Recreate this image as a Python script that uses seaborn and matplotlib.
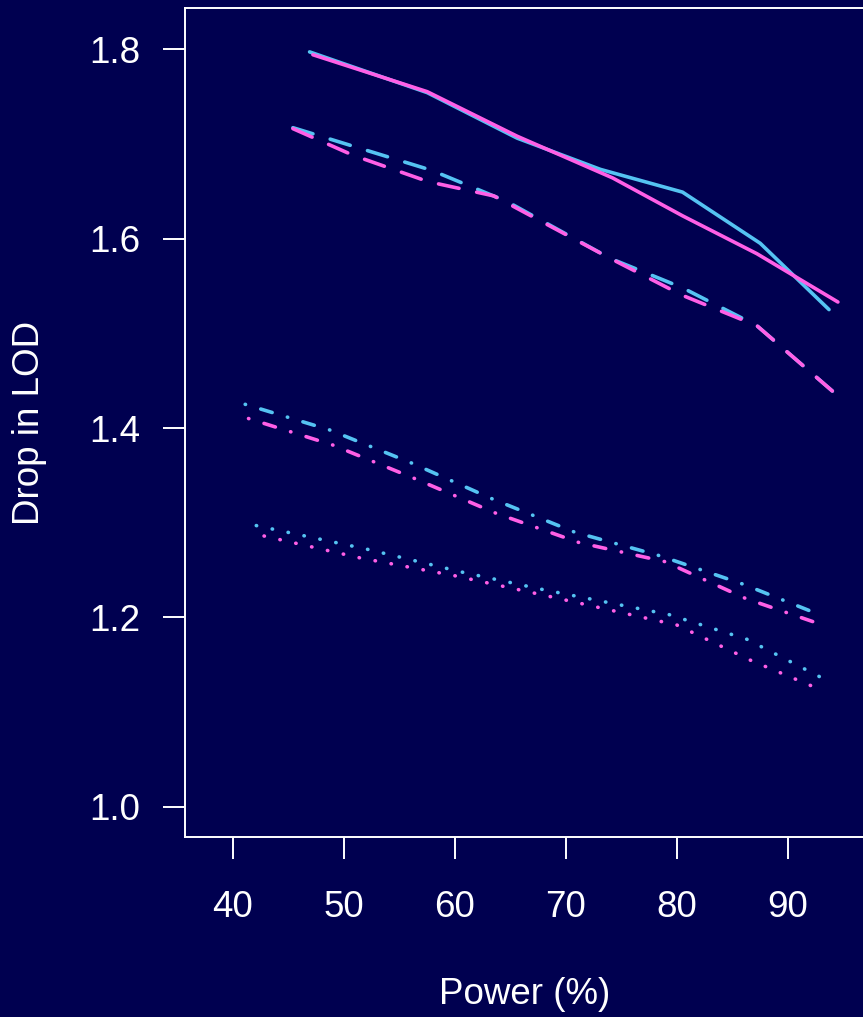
import matplotlib
matplotlib.use('Agg')
import matplotlib.pyplot as plt
import seaborn as sns

# power (%) vs drop in LOD, two colours x four line types
cyan_solid_x = [46.9, 57.5, 65.6, 73.1, 80.5, 87.5, 93.7]
cyan_solid_y = [1.797, 1.754, 1.706, 1.673, 1.649, 1.595, 1.525]
pink_solid_x = [47.2, 57.5, 65.6, 74.2, 80.5, 87.2, 94.5]
pink_solid_y = [1.794, 1.755, 1.708, 1.664, 1.624, 1.584, 1.533]

cyan_dash_x = [45.4, 57.9, 64.7, 74.0, 80.5, 87.2, 94.2]
cyan_dash_y = [1.717, 1.672, 1.639, 1.579, 1.548, 1.508, 1.437]
pink_dash_x = [45.4, 50.8, 57.6, 63.5, 74.0, 80.5, 87.2, 94.2]
pink_dash_y = [1.716, 1.688, 1.660, 1.645, 1.579, 1.540, 1.508, 1.437]

cyan_dashdot_x = [41.1, 48.7, 56.1, 63.4, 70.8, 78.5, 86.0, 92.2]
cyan_dashdot_y = [1.425, 1.398, 1.363, 1.325, 1.290, 1.265, 1.235, 1.206]
pink_dashdot_x = [41.4, 49.0, 56.3, 63.7, 71.2, 78.9, 86.2, 92.4]
pink_dashdot_y = [1.410, 1.382, 1.347, 1.310, 1.279, 1.259, 1.220, 1.195]

cyan_dot_x = [42.1, 52.1, 60.6, 67.7, 79.3, 86.3, 93.1]
cyan_dot_y = [1.297, 1.272, 1.248, 1.230, 1.203, 1.177, 1.136]
pink_dot_x = [42.8, 51.4, 60.0, 68.6, 80.0, 86.6, 93.3]
pink_dot_y = [1.286, 1.263, 1.244, 1.222, 1.192, 1.155, 1.122]

x_ticks = [40, 50, 60, 70, 80, 90]
y_ticks = [1.0, 1.2, 1.4, 1.6, 1.8]

bg = '#000050'
cyan = '#55c3f2'
pink = '#ff5fe6'

sns.set_style('dark')
plt.rcParams['font.family'] = ['Liberation Sans', 'DejaVu Sans']

fig = plt.figure(figsize=(8.63, 10.17), dpi=100, facecolor=bg)
ax = fig.add_axes([0.2144, 0.177, 0.7879, 0.8151])
ax.set_facecolor(bg)

lw = 2.6
styles = {
    'solid': '-',
    'dash': (0, (5.8, 5.0)),
    'dashdot': (0, (0.1, 4.4, 3.3, 4.4)),
    'dot': (0, (0.1, 4.4)),
}

series = [
    (cyan_solid_x, cyan_solid_y, cyan, 'solid'),
    (pink_solid_x, pink_solid_y, pink, 'solid'),
    (cyan_dash_x, cyan_dash_y, cyan, 'dash'),
    (pink_dash_x, pink_dash_y, pink, 'dash'),
    (cyan_dashdot_x, cyan_dashdot_y, cyan, 'dashdot'),
    (pink_dashdot_x, pink_dashdot_y, pink, 'dashdot'),
    (cyan_dot_x, cyan_dot_y, cyan, 'dot'),
    (pink_dot_x, pink_dot_y, pink, 'dot'),
]
for xs, ys, col, st in series:
    sns.lineplot(x=xs, y=ys, ax=ax, color=col, linewidth=lw, sort=False,
                 errorbar=None, linestyle=styles[st],
                 dash_capstyle='round', solid_capstyle='round')

ax.set_xlim(35.68, 96.94)
ax.set_ylim(0.9683, 1.8433)
ax.set_xticks(x_ticks)
ax.set_yticks(y_ticks)
ax.set_xticklabels([str(v) for v in x_ticks])
ax.set_yticklabels([f'{v:.1f}' for v in y_ticks])
ax.grid(False)

for s in ax.spines.values():
    s.set_visible(True)
    s.set_color('white')
    s.set_linewidth(1.4)

ax.tick_params(axis='both', colors='white', labelcolor='white', labelsize=26.5,
               length=16, width=1.4, direction='out')
ax.tick_params(axis='x', pad=22, bottom=True)
ax.tick_params(axis='y', pad=16, left=True)

ax.set_xlabel('Power (%)', color='white', fontsize=26.5)
ax.set_ylabel('Drop in LOD', color='white', fontsize=26.5)
ax.xaxis.set_label_coords(0.5, -0.1906)
ax.xaxis.label.set_va('center')
ax.yaxis.set_label_coords(-0.2294, 0.5)
ax.yaxis.label.set_va('center')

fig.savefig('out.png', dpi=100, facecolor=bg)
